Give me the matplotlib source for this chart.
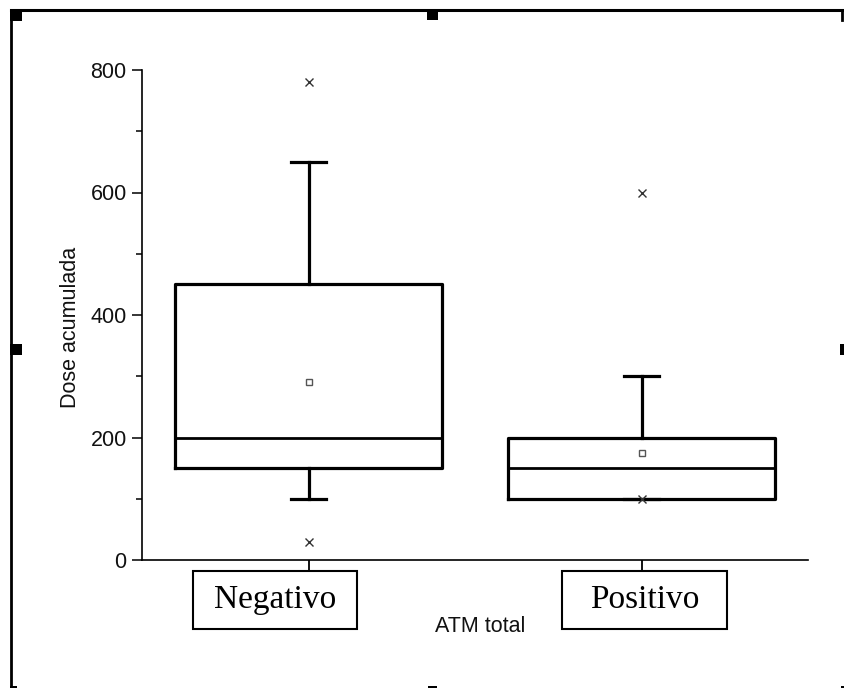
import matplotlib
matplotlib.use("Agg")
import matplotlib.pyplot as plt
from matplotlib.patches import Rectangle
from matplotlib.lines import Line2D

# ---- data ----
categories = ["Negativo", "Positivo"]
q1 = [150, 100]
medians = [200, 150]
q3 = [450, 200]
whis_lo = [100, 100]
whis_hi = [650, 300]
means = [290, 175]
outliers = [[30, 780], [100, 600]]
y_ticks = [0, 200, 400, 600, 800]
x_label = "ATM total"
y_label = "Dose acumulada"

SANS = ["Liberation Sans", "DejaVu Sans"]
W, H = 844, 688
fig = plt.figure(figsize=(W / 100, H / 100), dpi=100)
fig.patch.set_facecolor("white")

# axes placement (pixel based)
x0, x1, y_top, y_bot = 142, 808, 70, 560
ax = fig.add_axes([x0 / W, 1 - y_bot / H, (x1 - x0) / W, (y_bot - y_top) / H])

stats = []
for i, c in enumerate(categories):
    stats.append(dict(label=c, q1=q1[i], med=medians[i], q3=q3[i],
                      whislo=whis_lo[i], whishi=whis_hi[i], mean=means[i],
                      fliers=outliers[i]))

positions = list(range(1, len(categories) + 1))
ax.bxp(stats, positions=positions, widths=0.8, capwidths=0.105,
       showmeans=True, showfliers=True,
       boxprops=dict(color="black", linewidth=2.3),
       medianprops=dict(color="black", linewidth=2.0),
       whiskerprops=dict(color="black", linewidth=2.3),
       capprops=dict(color="black", linewidth=2.3),
       meanprops=dict(marker="s", markersize=4.5, markerfacecolor="white",
                      markeredgecolor="#555555", markeredgewidth=1.0),
       flierprops=dict(marker="x", markersize=5.5, markeredgecolor="#333333",
                       markeredgewidth=1.0, linestyle="none"))

ax.set_xlim(0.5, 2.5)
ax.set_ylim(0, 800)
ax.set_yticks(y_ticks)
ax.set_yticks(range(100, 800, 200), minor=True)
ax.set_xticks(positions)
ax.set_xticklabels([])
for s in ["top", "right"]:
    ax.spines[s].set_visible(False)
for s in ["left", "bottom"]:
    ax.spines[s].set_linewidth(1.2)
ax.tick_params(axis="y", which="major", direction="out", length=7, width=1.1,
               pad=4, labelsize=15.5)
ax.tick_params(axis="y", which="minor", direction="out", length=4, width=1.1)
ax.tick_params(axis="x", which="major", direction="out", length=8, width=1.3)
for lab in ax.get_yticklabels():
    lab.set_family(SANS)
    lab.set_color("#111111")

# overlay for annotations/frame in pixel coordinates
ov = fig.add_axes([0, 0, 1, 1], zorder=-1)
ov.set_xlim(0, W)
ov.set_ylim(H, 0)
ov.axis("off")

ov.text(71, 327, y_label, rotation=90, ha="center", va="center",
        fontsize=15.5, family=SANS, color="#111111")
ov.text(480, 626, x_label, ha="center", va="center",
        fontsize=15.5, family=SANS, color="#111111")

# category label boxes
box_x = [(193, 357), (562, 727)]
for (bx0, bx1), c in zip(box_x, categories):
    ov.add_patch(Rectangle((bx0, 571), bx1 - bx0, 58, facecolor="white",
                           edgecolor="black", linewidth=1.5))
    ov.text((bx0 + bx1) / 2, 600, c, ha="center", va="center",
            fontsize=24, family="Liberation Serif", color="black")

# selection frame and handles
ov.add_line(Line2D([11, 843], [10, 10], color="black", linewidth=2.2))
ov.add_line(Line2D([11, 11], [10, 688], color="black", linewidth=2.0))
ov.add_line(Line2D([842, 842], [10, 20], color="black", linewidth=2.0))
handles = [(10, 9, 12, 12), (427, 9, 11, 11), (10, 344, 12, 11),
           (840, 344, 4, 11), (10, 686, 7, 2), (428, 686, 9, 2), (841, 686, 3, 2)]
for hx, hy, hw, hh in handles:
    ov.add_patch(Rectangle((hx, hy), hw, hh, facecolor="black", edgecolor="none"))

fig.savefig("out.png", dpi=100, facecolor="white")
